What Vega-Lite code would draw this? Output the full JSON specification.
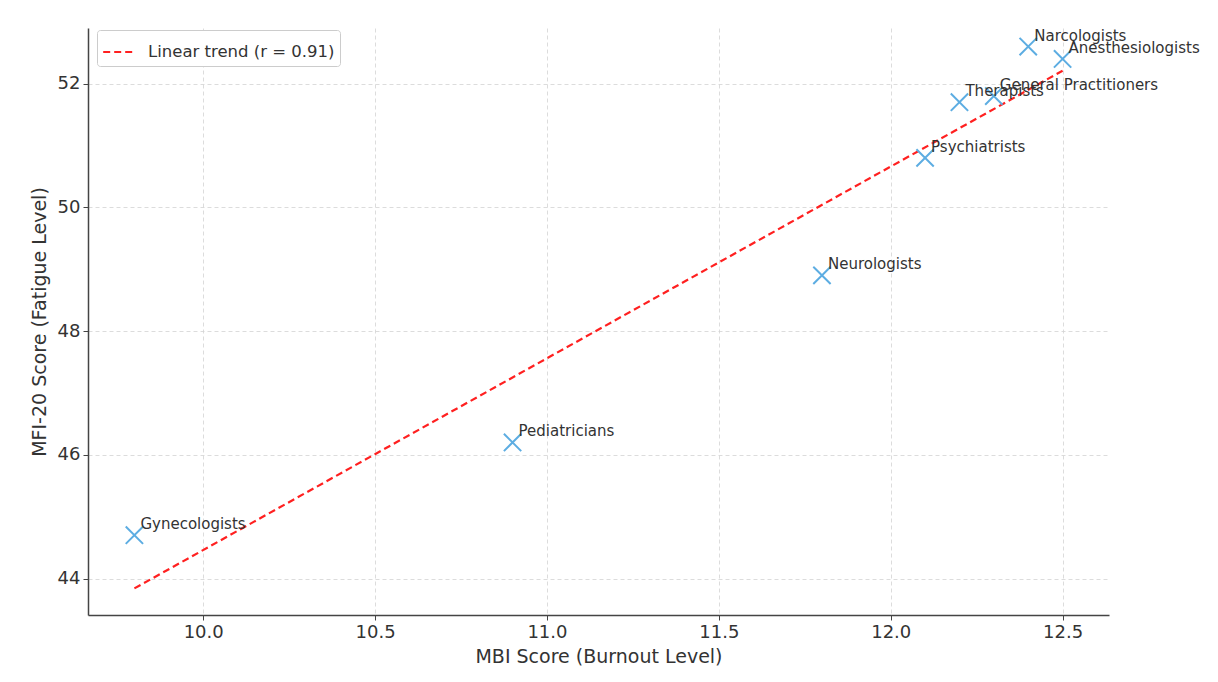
{
  "$schema": "https://vega.github.io/schema/vega-lite/v6.json",
  "width": 1021,
  "height": 587,
  "autosize": "none",
  "padding": {"left": 88, "top": 28, "right": 109, "bottom": 67},
  "background": "white",
  "config": {
    "view": {"stroke": null},
    "font": "DejaVu Sans",
    "axis": {
      "gridDash": [4, 3],
      "gridColor": "#d3d3d3",
      "gridWidth": 0.8,
      "domainColor": "#444444",
      "domainWidth": 1.5,
      "tickColor": "#444444",
      "tickSize": 5,
      "labelFontSize": 18,
      "labelColor": "#333333",
      "labelFont": "DejaVu Sans",
      "titleFont": "DejaVu Sans",
      "titleFontSize": 19,
      "titleFontWeight": "normal",
      "titleColor": "#333333",
      "labelPadding": 3
    }
  },
  "datasets": {
    "points": [
      {"specialty": "Gynecologists", "mbi": 9.8, "mfi": 44.7},
      {"specialty": "Pediatricians", "mbi": 10.9, "mfi": 46.2},
      {"specialty": "Neurologists", "mbi": 11.8, "mfi": 48.9},
      {"specialty": "Psychiatrists", "mbi": 12.1, "mfi": 50.8},
      {"specialty": "Therapists", "mbi": 12.2, "mfi": 51.7},
      {"specialty": "General Practitioners", "mbi": 12.3, "mfi": 51.8},
      {"specialty": "Narcologists", "mbi": 12.4, "mfi": 52.6},
      {"specialty": "Anesthesiologists", "mbi": 12.5, "mfi": 52.4}
    ],
    "trend": [
      {"series": "Linear trend (r = 0.91)", "mbi": 9.8, "mfi": 43.84},
      {"series": "Linear trend (r = 0.91)", "mbi": 12.5, "mfi": 52.21}
    ]
  },
  "layer": [
    {
      "data": {"name": "trend"},
      "mark": {"type": "line", "strokeDash": [7, 4], "strokeWidth": 2.2, "clip": true},
      "encoding": {
        "x": {"field": "mbi", "type": "quantitative", "scale": {"domain": [9.665, 12.635], "nice": false, "zero": false},
          "axis": {"title": "MBI Score (Burnout Level)", "values": [10, 10.5, 11, 11.5, 12, 12.5], "format": ".1f", "titlePadding": 6}},
        "y": {"field": "mfi", "type": "quantitative", "scale": {"domain": [43.41, 52.9], "nice": false, "zero": false},
          "axis": {"title": "MFI-20 Score (Fatigue Level)", "values": [44, 46, 48, 50, 52], "format": "d", "titlePadding": 8}},
        "color": {"field": "series", "type": "nominal", "scale": {"range": ["#ff2020"]},
          "legend": {"title": null, "orient": "none", "legendX": 9, "legendY": 2, "symbolType": "stroke", "symbolDash": [7, 4], "symbolStrokeWidth": 2.2, "symbolSize": 1000,
            "labelFontSize": 16.5, "labelLimit": 500, "labelColor": "#333333", "labelFont": "DejaVu Sans", "labelOffset": 12, "strokeColor": "#cccccc", "fillColor": "white", "padding": 5, "cornerRadius": 3}}
      }
    },
    {
      "data": {"name": "points"},
      "mark": {"type": "point", "shape": "M-1,-1L1,1M1,-1L-1,1", "filled": false, "size": 300, "strokeWidth": 2, "color": "#5dade2", "opacity": 1},
      "encoding": {
        "x": {"field": "mbi", "type": "quantitative"},
        "y": {"field": "mfi", "type": "quantitative"}
      }
    },
    {
      "data": {"name": "points"},
      "mark": {"type": "text", "align": "left", "baseline": "alphabetic", "dx": 6, "dy": -6, "fontSize": 15, "color": "#333333", "font": "DejaVu Sans"},
      "encoding": {
        "x": {"field": "mbi", "type": "quantitative"},
        "y": {"field": "mfi", "type": "quantitative"},
        "text": {"field": "specialty"}
      }
    }
  ]
}
